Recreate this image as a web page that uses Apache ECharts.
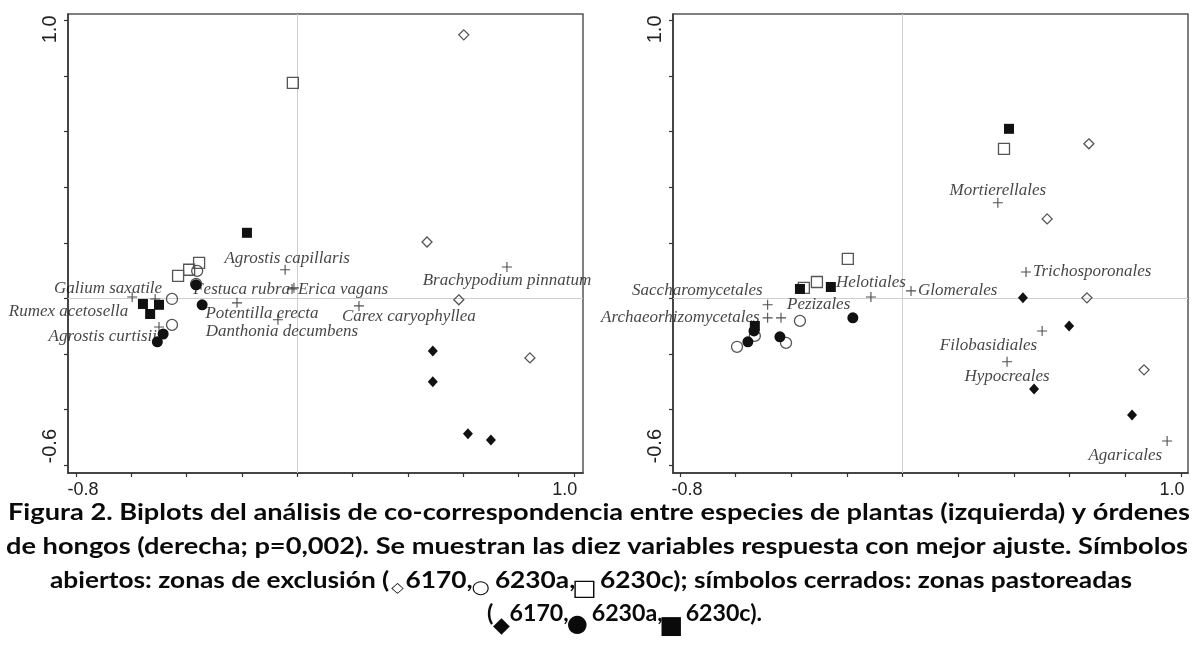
<!DOCTYPE html>
<html><head><meta charset="utf-8">
<script src="https://cdn.jsdelivr.net/npm/echarts@6/dist/echarts.min.js"></script>
<style>html,body{margin:0;padding:0;background:#fff}#c{width:1192px;height:663px}</style>
</head><body><div id="c"></div>
<script>
// ---------- DATA: left biplot (plant species) ----------
const plantSpecies = ['Rumex acetosella','Galium saxatile','Agrostis curtisii','Agrostis capillaris','Festuca rubra','Erica vagans','Potentilla erecta','Danthonia decumbens','Carex caryophyllea','Brachypodium pinnatum'];
const plantX = [-0.597,-0.514,-0.500,-0.044,-0.019,-0.012,-0.218,-0.070,0.223,0.758];
const plantY = [0.005,-0.002,-0.103,0.103,0.034,0.038,-0.016,-0.077,-0.027,0.113];
const plantExcl6170  = [[0.602,0.948],[0.469,0.203],[0.584,-0.005],[0.841,-0.214]];
const plantExcl6230a = [[-0.362,0.099],[-0.453,-0.002],[-0.453,-0.095],[-0.366,0.052]];
const plantExcl6230c = [[-0.016,0.775],[-0.431,0.081],[-0.391,0.103],[-0.355,0.128]];
const plantGraz6170  = [[0.490,-0.189],[0.490,-0.300],[0.617,-0.487],[0.700,-0.509]];
const plantGraz6230a = [[-0.366,0.049],[-0.344,-0.023],[-0.485,-0.128],[-0.506,-0.156]];
const plantGraz6230c = [[-0.182,0.236],[-0.558,-0.020],[-0.500,-0.023],[-0.532,-0.056]];

// ---------- DATA: right biplot (fungal orders) ----------
const fungiOrders = ['Mortierellales','Trichosporonales','Glomerales','Helotiales','Saccharomycetales','Pezizales','Archaeorhizomycetales','Filobasidiales','Hypocreales','Agaricales'];
const fungiX = [0.342,0.443,0.030,-0.114,-0.485,-0.437,-0.485,0.501,0.375,0.950];
const fungiY = [0.344,0.095,0.027,0.005,-0.023,-0.070,-0.070,-0.117,-0.228,-0.513];
const fungiExcl6170  = [[0.669,0.556],[0.519,0.286],[0.662,0.002],[0.867,-0.257]];
const fungiExcl6230a = [[-0.369,-0.081],[-0.419,-0.160],[-0.595,-0.174],[-0.531,-0.135]];
const fungiExcl6230c = [[0.364,0.538],[-0.197,0.142],[-0.308,0.059],[-0.355,0.038]];
const fungiGraz6170  = [[0.432,0.002],[0.598,-0.099],[0.472,-0.326],[0.824,-0.419]];
const fungiGraz6230a = [[-0.179,-0.070],[-0.441,-0.138],[-0.556,-0.156],[-0.534,-0.117]];
const fungiGraz6230c = [[0.382,0.610],[-0.369,0.034],[-0.258,0.041],[-0.531,-0.099]];

// tick labels
const xTickValues = [-0.8,-0.6,-0.4,-0.2,0,0.2,0.4,0.6,0.8,1.0];
const xTickLabels = [-0.8,1.0];
const yTickValues = [-0.6,-0.4,-0.2,0,0.2,0.4,0.6,0.8,1.0];
const yTickLabels = [1.0,-0.6];

// caption
const captionLines = [
  ['Figura 2. Biplots del análisis de co-correspondencia entre especies de plantas (izquierda) y órdenes'],
  ['de hongos (derecha; p=0,002). Se muestran las diez variables respuesta con mejor ajuste. Símbolos'],
  ['abiertos: zonas de exclusión (', {s:'◇'}, '6170,', {s:'○'}, ' 6230a,', {s:'□'}, ' 6230c); símbolos cerrados: zonas pastoreadas'],
  ['(', {s:'◆'}, '6170,', {s:'●'}, ' 6230a,', {s:'■'}, ' 6230c).']
];

// ---------- STYLE / LAYOUT ----------
const plantLabelLayout = [['right',-4,15],['right',7,-10],['right',-2,9],['center',2,-11],['right',-2,1],['left',4,2],['center',25,11],['center',4,12],['left',-17,11],['center',0,14]];
const fungiLabelLayout = [['center',0,-12],['left',7,0],['left',7,0],['center',0,-14],['right',-5,-14],['left',6,-13],['right',-8,0],['right',-5,15],['center',0,15],['right',-5,15]];

const SYM = {
  openDiamond:  {symbol:'path://M0,-10L10,0L0,10L-10,0Z', size:[10,10], color:'rgba(0,0,0,0)', border:'#555', bw:1.3},
  openCircle:   {symbol:'circle', size:11, color:'rgba(0,0,0,0)', border:'#555', bw:1.3},
  openSquare:   {symbol:'rect', size:11, color:'rgba(0,0,0,0)', border:'#555', bw:1.3},
  fillDiamond:  {symbol:'path://M0,-10L10,0L0,10L-10,0Z', size:[10,11], color:'#111', border:'#111', bw:0},
  fillCircle:   {symbol:'circle', size:11, color:'#111', border:'#111', bw:0},
  fillSquare:   {symbol:'rect', size:10, color:'#111', border:'#111', bw:0}
};

const grids = [
  {left:68, top:14, width:515, height:459, xmin:-0.829, xmax:1.033, ymin:-0.628, ymax:1.023},
  {left:673, top:14, width:515, height:459, xmin:-0.825, xmax:1.025, ymin:-0.628, ymax:1.023}
];

const tickFont = {fontFamily:'Liberation Sans', color:'#222'};
function xAxisFor(i){
  const g = grids[i];
  return {type:'value', gridIndex:i, min:g.xmin, max:g.xmax, splitLine:{show:false},
    axisLine:{show:true, onZero:false, lineStyle:{color:'#333', width:1.5}},
    axisTick:{show:true, length:4, customValues:xTickValues, lineStyle:{color:'#333', width:1.2}},
    axisLabel:{show:true, customValues:xTickLabels, margin:8,
      formatter:v=> v<0 ? '{a|'+v.toFixed(1)+'}' : '{b|'+v.toFixed(1)+'}',
      rich:{a:Object.assign({fontSize:18, padding:[0,0,0,14]}, tickFont),
            b:Object.assign({fontSize:18, padding:[0,18,0,0]}, tickFont)}}
  };
}
function yAxisFor(i){
  const g = grids[i];
  return {type:'value', gridIndex:i, min:g.ymin, max:g.ymax, splitLine:{show:false},
    axisLine:{show:true, onZero:false, lineStyle:{color:'#333', width:1.5}},
    axisTick:{show:true, length:4, customValues:yTickValues, lineStyle:{color:'#333', width:1.2}},
    axisLabel:{show:true, customValues:yTickLabels, rotate:90, margin:8,
      formatter:v=> v>0 ? '{a|'+v.toFixed(1)+'}' : '{b|'+v.toFixed(1)+'}',
      rich:{a:Object.assign({fontSize:20, padding:[0,18,0,0]}, tickFont),
            b:Object.assign({fontSize:20, padding:[0,0,0,38]}, tickFont)}}
  };
}

function siteSeries(data, kind, gi){
  const s = SYM[kind];
  return {type:'scatter', xAxisIndex:gi, yAxisIndex:gi, data:data, symbol:s.symbol, symbolSize:s.size,
    itemStyle:{color:s.color, borderColor:s.border, borderWidth:s.bw, opacity:1}, z:3, silent:true};
}
function speciesSeries(names, xs, ys, layout, gi){
  return {type:'scatter', xAxisIndex:gi, yAxisIndex:gi, z:2, silent:true,
    symbol:'path://M-10,0L10,0M0,-10L0,10', symbolSize:10,
    itemStyle:{color:'rgba(0,0,0,0)', borderColor:'#222', borderWidth:1.1},
    label:{show:true, position:'inside', formatter:'{b}', fontFamily:'Liberation Serif', fontStyle:'italic', fontSize:17, color:'#151515', verticalAlign:'middle'},
    data:names.map((n,i)=>({name:n, value:[xs[i],ys[i]], label:{align:layout[i][0], offset:[layout[i][1],layout[i][2]]}})),
    markLine:{silent:true, symbol:'none', label:{show:false}, lineStyle:{color:'#cfcfcf', type:'solid', width:1}, data:[{xAxis:0},{yAxis:0}], z:1}
  };
}

// caption layout: each line laid out from measured widths, then fitted horizontally to the reference line extent
const captionStarts = [8, 6, 50, 487];
const captionWidths = [1182, 1182, 1082, 275];
const captionYs = [513, 547, 581, 614];
const capFont = 'Lato';
const capSize = 22.5;
// symbol glyph scale (rel. to caption size), advance (em of caption size), vertical shift (px)
const symStyle = {'◇':{scale:0.62, adv:0.62, dy:7}, '○':{scale:0.8, adv:0.6, dy:7}, '□':{scale:1.0, adv:0.7, dy:8},
                  '◆':{scale:0.95, adv:0.7, dy:12}, '●':{scale:1.05, adv:0.75, dy:11}, '■':{scale:1.1, adv:0.75, dy:13}};
const mctx = document.createElement('canvas').getContext('2d');
function wText(t, size){ mctx.font = 'bold '+size+'px '+capFont; return mctx.measureText(t).width; }
const graphics = [];
captionLines.forEach((line, li)=>{
  let x = 0; const children = [];
  line.forEach(p=>{
    if(typeof p==='string'){
      children.push({type:'text', x:x, y:0, style:{text:p, font:'bold '+capSize+'px '+capFont, fill:'#0a0a0a', textVerticalAlign:'middle'}});
      x += wText(p, capSize);
    } else {
      const st = symStyle[p.s]; const fs = capSize*st.scale; const adv = capSize*st.adv;
      children.push({type:'text', x:x+adv/2, y:st.dy, style:{text:p.s, font:fs.toFixed(2)+'px DejaVu Sans', fill:'#0a0a0a', textAlign:'center', textVerticalAlign:'middle'}});
      x += adv;
    }
  });
  graphics.push({type:'group', x:captionStarts[li], y:captionYs[li], scaleX:captionWidths[li]/x, children:children});
});

const chart = echarts.init(document.getElementById('c'), null, {renderer:'canvas'});
chart.setOption({
  animation:false, backgroundColor:'#fff',
  grid: grids.map(g=>({left:g.left, top:g.top, width:g.width, height:g.height, show:true, borderColor:'#555', borderWidth:1.5, backgroundColor:'transparent'})),
  xAxis:[xAxisFor(0), xAxisFor(1)],
  yAxis:[yAxisFor(0), yAxisFor(1)],
  series:[
    speciesSeries(plantSpecies, plantX, plantY, plantLabelLayout, 0),
    siteSeries(plantExcl6170,'openDiamond',0), siteSeries(plantExcl6230a,'openCircle',0), siteSeries(plantExcl6230c,'openSquare',0),
    siteSeries(plantGraz6170,'fillDiamond',0), siteSeries(plantGraz6230a,'fillCircle',0), siteSeries(plantGraz6230c,'fillSquare',0),
    speciesSeries(fungiOrders, fungiX, fungiY, fungiLabelLayout, 1),
    siteSeries(fungiExcl6170,'openDiamond',1), siteSeries(fungiExcl6230a,'openCircle',1), siteSeries(fungiExcl6230c,'openSquare',1),
    siteSeries(fungiGraz6170,'fillDiamond',1), siteSeries(fungiGraz6230a,'fillCircle',1), siteSeries(fungiGraz6230c,'fillSquare',1)
  ],
  graphic: graphics
});
</script></body></html>
